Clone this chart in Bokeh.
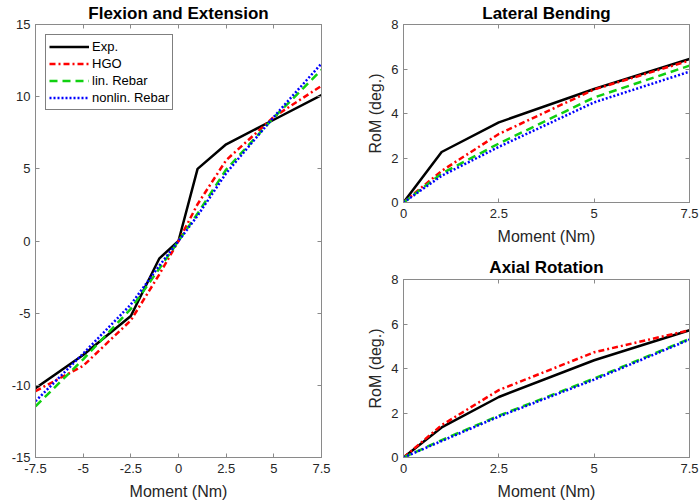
from bokeh.plotting import figure
from bokeh.models import FixedTicker, LinearAxis, Label, Legend, LegendItem, Range1d
from bokeh.layouts import row, column
from bokeh.embed import file_html
from bokeh.resources import INLINE

# ---------------- data ----------------
fe_moment = [-7.5, -5, -2.5, -1, 0, 1, 2.5, 5, 7.5]
fe_exp = [-10.2, -7.9, -5.2, -1.2, 0, 5.0, 6.7, 8.4, 10.1]
fe_hgo = [-10.4, -8.65, -5.5, -2.3, 0, 2.55, 5.6, 8.6, 10.75]
fe_lin = [-11.45, -8.2, -4.7, -1.9, 0, 1.9, 4.95, 8.55, 11.85]
fe_nonlin = [-11.1, -7.8, -4.4, -1.7, 0, 1.75, 4.7, 8.6, 12.3]

lb_moment = [0, 1, 2.5, 5, 7.5]
lb_exp = [0, 2.27, 3.6, 5.1, 6.45]
lb_hgo = [0, 1.42, 3.08, 5.08, 6.38]
lb_lin = [0, 1.3, 2.65, 4.72, 6.15]
lb_nonlin = [0, 1.2, 2.5, 4.5, 5.88]

ar_moment = [0, 1, 2.5, 5, 7.5]
ar_exp = [0, 1.35, 2.72, 4.37, 5.72]
ar_hgo = [0, 1.45, 3.03, 4.73, 5.72]
ar_lin = [0, 0.78, 1.88, 3.55, 5.33]
ar_nonlin = [0, 0.74, 1.84, 3.5, 5.3]

fe_xticks = [-7.5, -5, -2.5, 0, 2.5, 5, 7.5]
fe_xlabels = ["-7.5", "-5", "-2.5", "0", "2.5", "5", "7.5"]
fe_yticks = [-15, -10, -5, 0, 5, 10, 15]
fe_ylabels = ["-15", "-10", "-5", "0", "5", "10", "15"]
r_xticks = [0, 2.5, 5, 7.5]
r_xlabels = ["0", "2.5", "5", "7.5"]
r_yticks = [0, 2, 4, 6, 8]
r_ylabels = ["0", "2", "4", "6", "8"]

series_names = ["Exp.", "HGO", "lin. Rebar", "nonlin. Rebar"]

FONT = "Liberation Sans"
TXT = "#262626"
FRAME = "#8a8a8a"
styles = [
    dict(color="#000000", line_dash="solid"),
    dict(color="#ff0000", line_dash="6 3 2 3"),
    dict(color="#10d010", line_dash="8 5"),
    dict(color="#0000ff", line_dash="2 2"),
]


def make(title, w, h, xr, yr, xt, xl, yt, yl, mb, ylab_axis, tstand):
    p = figure(width=w, height=h, x_range=Range1d(*xr), y_range=Range1d(*yr),
               output_backend="svg", toolbar_location=None,
               min_border_left=mb[0], min_border_right=mb[1],
               min_border_top=mb[2], min_border_bottom=mb[3])
    p.grid.visible = False
    p.outline_line_color = FRAME
    p.title.text = title
    p.title.text_font = FONT
    p.title.text_font_size = "17px"
    p.title.text_font_style = "bold"
    p.title.text_color = "#000000"
    p.title.align = "center"
    p.title.standoff = tstand
    p.add_layout(LinearAxis(), "above")
    p.add_layout(LinearAxis(), "right")
    for ax in p.xaxis:
        ax.ticker = FixedTicker(ticks=xt)
        ax.major_label_overrides = dict(zip(xt, xl))
    for ax in p.yaxis:
        ax.ticker = FixedTicker(ticks=yt)
        ax.major_label_overrides = dict(zip(yt, yl))
    for ax in p.xaxis + p.yaxis:
        ax.axis_line_color = FRAME
        ax.major_tick_line_color = FRAME
        ax.major_tick_in = 4
        ax.major_tick_out = 0
        ax.minor_tick_line_color = None
        ax.major_label_text_font = FONT
        ax.major_label_text_font_size = "13px"
        ax.major_label_text_color = TXT
        ax.axis_label_text_font = FONT
        ax.axis_label_text_font_size = "16px"
        ax.axis_label_text_font_style = "normal"
        ax.axis_label_text_color = TXT
    for ax in p.above + p.right:
        if isinstance(ax, LinearAxis):
            ax.major_label_text_font_size = "1px"
            ax.major_label_text_color = None
            ax.major_label_standoff = 0
    p.below[0].axis_label = "Moment (Nm)"
    p.below[0].major_label_standoff = 6
    p.below[0].axis_label_standoff = 7
    p.left[0].major_label_standoff = 5
    if ylab_axis:
        p.left[0].axis_label = "RoM (deg.)"
        p.left[0].axis_label_standoff = 4
    return p


def draw(p, x, ys):
    rs = []
    for y, st in zip(ys, styles):
        rs.append(p.line(x, y, line_width=2.5, line_color=st["color"],
                         line_dash=st["line_dash"]))
    return rs


p1 = make("Flexion and Extension", 348, 502, (-7.5, 7.5), (-15, 15),
          fe_xticks, fe_xlabels, fe_yticks, fe_ylabels, (35, 27, 24, 45), False, 3)
rs = draw(p1, fe_moment, [fe_exp, fe_hgo, fe_lin, fe_nonlin])
p1.add_layout(Label(x=-26, y=0, x_units="screen", y_units="data", text="RoM (deg.)",
                    angle=90, angle_units="deg", text_align="center",
                    text_baseline="middle", text_font=FONT, text_font_size="16px",
                    text_color=TXT))
leg = Legend(items=[LegendItem(label=n, renderers=[r]) for n, r in zip(series_names, rs)],
             location="top_left", margin=10, padding=3, spacing=0,
             glyph_width=40, glyph_height=17, label_standoff=3,
             label_text_font=FONT, label_text_font_size="13px", label_text_color="#000000",
             label_height=17, border_line_color="#000000", border_line_width=1,
             background_fill_color="white", background_fill_alpha=1.0)
p1.add_layout(leg)

p2 = make("Lateral Bending", 351, 252, (0, 7.5), (0, 8),
          r_xticks, r_xlabels, r_yticks, r_ylabels, (55, 10, 24, 50), True, 3)
draw(p2, lb_moment, [lb_exp, lb_hgo, lb_lin, lb_nonlin])

p3 = make("Axial Rotation", 351, 250, (0, 7.5), (0, 8),
          r_xticks, r_xlabels, r_yticks, r_ylabels, (55, 10, 27, 45), True, 6)
draw(p3, ar_moment, [ar_exp, ar_hgo, ar_lin, ar_nonlin])

layout = row(p1, column(p2, p3))
open("out.html", "w").write(file_html(layout, INLINE))
